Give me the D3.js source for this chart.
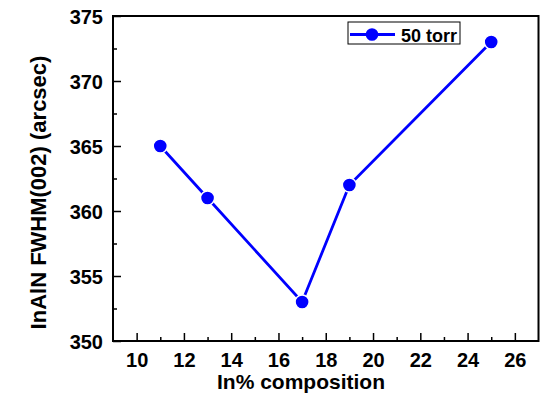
<!DOCTYPE html>
<html>
<head>
<meta charset="utf-8">
<script src="https://cdn.jsdelivr.net/npm/d3@7"></script>
<style>
  html, body { margin: 0; padding: 0; background: #fff; }
  svg text { font-family: "Liberation Sans", Arial, sans-serif; font-weight: bold; fill: #000; }
</style>
</head>
<body>
<svg id="chart" width="544" height="396"></svg>
<script>
// Indium composition (%) and the corresponding FWHM of the (002) rocking curve
const composition = [11, 13, 17, 19, 25];
const fwhm = [365, 361, 353, 362, 373];
const seriesName = "50 torr";
const xTicks = [10, 12, 14, 16, 18, 20, 22, 24, 26];
const yTicks = [350, 355, 360, 365, 370, 375];

const svg = d3.select("#chart");
const plot = { left: 113, right: 538.5, top: 16, bottom: 341 };

const x = d3.scaleLinear().domain([9, 27]).range([plot.left, plot.right]);
const y = d3.scaleLinear().domain([350, 375]).range([plot.bottom, plot.top]);

const blue = "#0000ff";

// Bottom axis: inward ticks, majors every 2, minors on odd values
const xAxis = svg.append("g").attr("transform", `translate(0,${plot.bottom})`);
xAxis.call(d3.axisBottom(x).tickValues(d3.range(10, 27, 1))
  .tickSize(0).tickFormat(""));
xAxis.select(".domain").remove();
xAxis.selectAll(".tick line")
  .attr("y2", d => d % 2 === 0 ? -8 : -4)
  .attr("stroke", "#000").attr("stroke-width", 1.5);
xAxis.selectAll(".tick").filter(d => xTicks.includes(d)).append("text")
  .attr("y", 26).attr("text-anchor", "middle").style("font-size", "20px")
  .text(d => d);

// Left axis: inward ticks, majors every 5, minors halfway
const yAxis = svg.append("g").attr("transform", `translate(${plot.left},0)`);
yAxis.call(d3.axisLeft(y).tickValues(d3.range(350, 375.1, 2.5))
  .tickSize(0).tickFormat(""));
yAxis.select(".domain").remove();
yAxis.selectAll(".tick line")
  .attr("x2", d => d % 5 === 0 ? 8 : 4)
  .attr("stroke", "#000").attr("stroke-width", 1.5);
yAxis.selectAll(".tick").filter(d => yTicks.includes(d)).append("text")
  .attr("x", -10).attr("dy", "0.36em").attr("text-anchor", "end").style("font-size", "20px")
  .text(d => d);

// Plot frame
svg.append("rect")
  .attr("x", plot.left).attr("y", plot.top)
  .attr("width", plot.right - plot.left).attr("height", plot.bottom - plot.top)
  .attr("fill", "none").attr("stroke", "#000").attr("stroke-width", 2);

// Data line and markers (thin white rim leaves a small gap where the line meets a marker)
const pts = composition.map((c, i) => [c, fwhm[i]]);
svg.append("path")
  .datum(pts)
  .attr("fill", "none").attr("stroke", blue).attr("stroke-width", 2.8)
  .attr("d", d3.line().x(d => x(d[0])).y(d => y(d[1])));
svg.selectAll("circle.pt").data(pts).enter().append("circle")
  .attr("class", "pt")
  .attr("cx", d => x(d[0])).attr("cy", d => y(d[1])).attr("r", 7)
  .attr("fill", blue).attr("stroke", "#fff").attr("stroke-width", 1.4);

// Axis titles
svg.append("text")
  .attr("x", 301).attr("y", 389).attr("text-anchor", "middle")
  .style("font-size", "21px").text("In% composition");
svg.append("text")
  .attr("transform", "translate(46,192.5) rotate(-90)")
  .attr("text-anchor", "middle")
  .style("font-size", "22px").text("InAlN FWHM(002) (arcsec)");

// Legend
const lg = svg.append("g");
lg.append("rect").attr("x", 348).attr("y", 22).attr("width", 112).attr("height", 22)
  .attr("fill", "#fff").attr("stroke", "#000").attr("stroke-width", 1);
lg.append("line").attr("x1", 350).attr("x2", 395).attr("y1", 34.5).attr("y2", 34.5)
  .attr("stroke", blue).attr("stroke-width", 2.8);
lg.append("circle").attr("cx", 372).attr("cy", 34.5).attr("r", 6.3).attr("fill", blue);
lg.append("text").attr("x", 401).attr("y", 41.5).style("font-size", "18px").text(seriesName);
</script>
</body>
</html>
